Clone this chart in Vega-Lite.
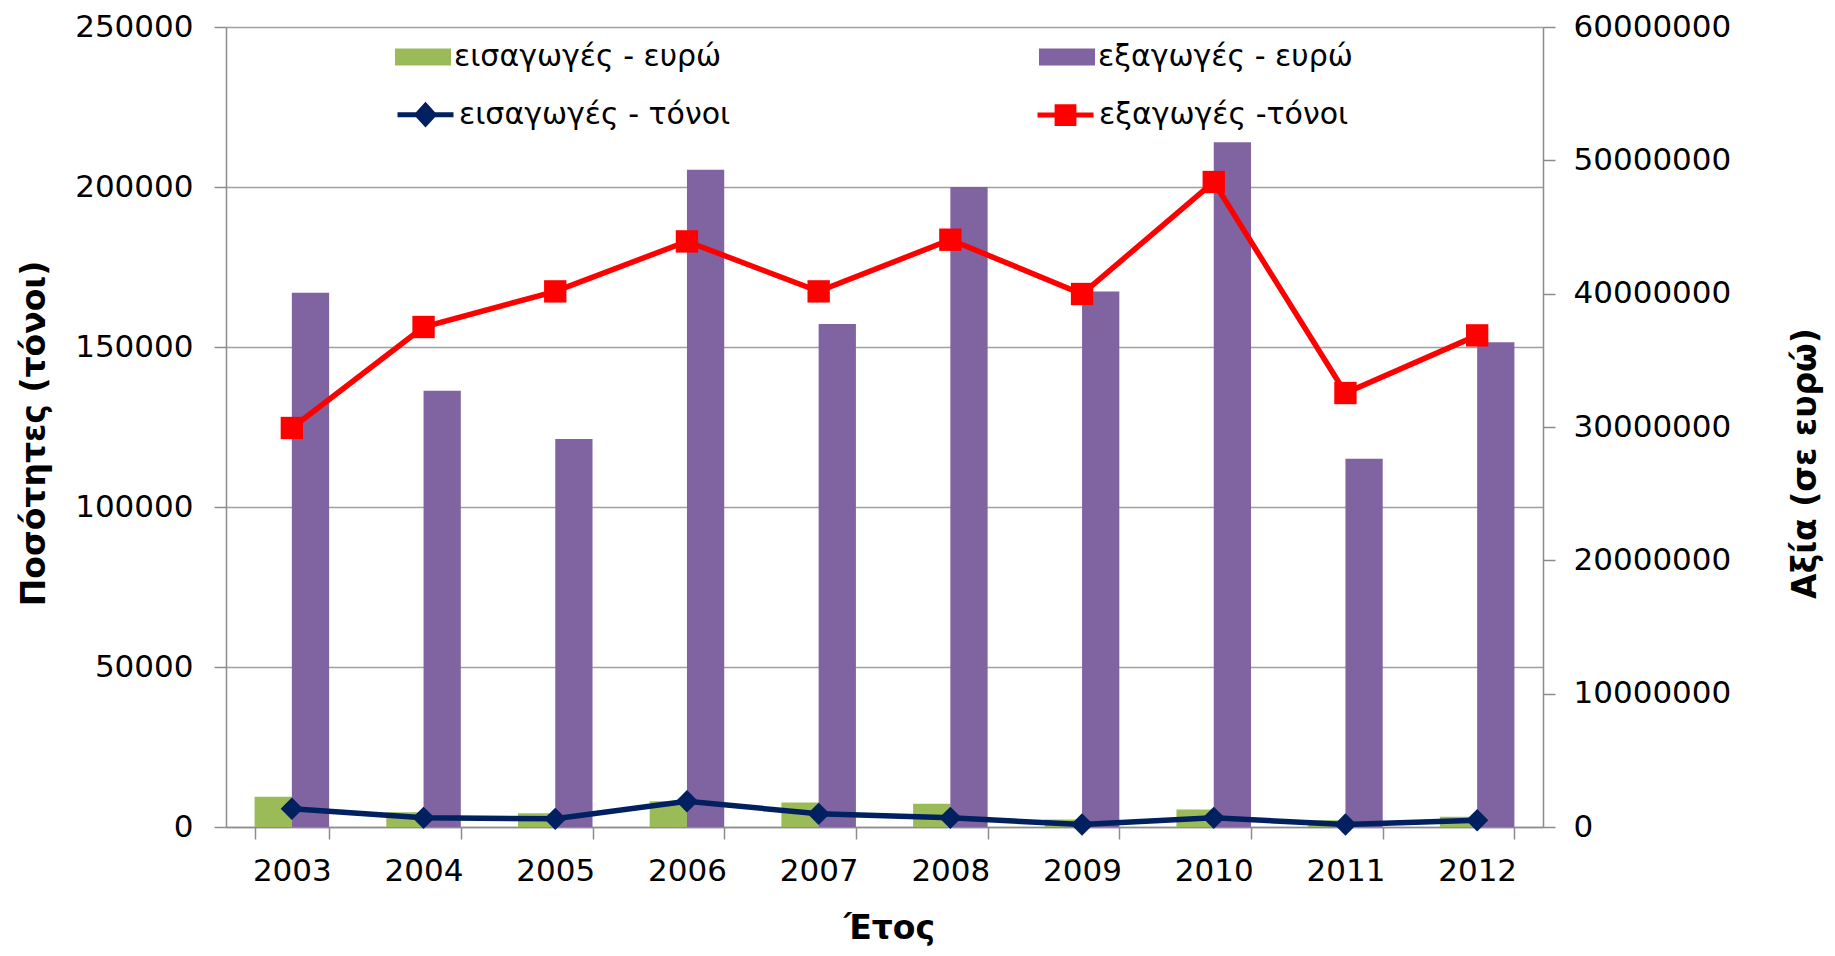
{
  "$schema": "https://vega.github.io/schema/vega-lite/v6.json",
  "width": 1317,
  "height": 800,
  "autosize": {"type": "none"},
  "padding": {"left": 226, "top": 27, "right": 292, "bottom": 129},
  "background": "white",
  "config": {
    "font": "DejaVu Sans",
    "view": {"stroke": null},
    "axis": {
      "domainColor": "#8c8c8c",
      "domainWidth": 1.5,
      "tickColor": "#8c8c8c",
      "tickWidth": 1.5,
      "tickSize": 12,
      "gridColor": "#a0a0a0",
      "gridWidth": 1.5,
      "labelFont": "DejaVu Sans",
      "labelFontSize": 31,
      "labelColor": "#000000",
      "titleFont": "DejaVu Sans",
      "titleFontSize": 33,
      "titleFontWeight": "bold",
      "titleColor": "#000000"
    },
    "legend": {"labelFont": "DejaVu Sans"}
  },
  "datasets": {
    "euro": [
      {"year": "2003", "s": "εισαγωγές - ευρώ", "v": 2270000},
      {"year": "2004", "s": "εισαγωγές - ευρώ", "v": 1110000},
      {"year": "2005", "s": "εισαγωγές - ευρώ", "v": 1040000},
      {"year": "2006", "s": "εισαγωγές - ευρώ", "v": 1940000},
      {"year": "2007", "s": "εισαγωγές - ευρώ", "v": 1840000},
      {"year": "2008", "s": "εισαγωγές - ευρώ", "v": 1740000},
      {"year": "2009", "s": "εισαγωγές - ευρώ", "v": 560000},
      {"year": "2010", "s": "εισαγωγές - ευρώ", "v": 1310000},
      {"year": "2011", "s": "εισαγωγές - ευρώ", "v": 510000},
      {"year": "2012", "s": "εισαγωγές - ευρώ", "v": 760000},
      {"year": "2003", "s": "εξαγωγές - ευρώ", "v": 40070000},
      {"year": "2004", "s": "εξαγωγές - ευρώ", "v": 32720000},
      {"year": "2005", "s": "εξαγωγές - ευρώ", "v": 29100000},
      {"year": "2006", "s": "εξαγωγές - ευρώ", "v": 49300000},
      {"year": "2007", "s": "εξαγωγές - ευρώ", "v": 37730000},
      {"year": "2008", "s": "εξαγωγές - ευρώ", "v": 48000000},
      {"year": "2009", "s": "εξαγωγές - ευρώ", "v": 40170000},
      {"year": "2010", "s": "εξαγωγές - ευρώ", "v": 51350000},
      {"year": "2011", "s": "εξαγωγές - ευρώ", "v": 27620000},
      {"year": "2012", "s": "εξαγωγές - ευρώ", "v": 36350000}
    ],
    "tons": [
      {"year": "2003", "s": "εισαγωγές - τόνοι", "v": 5690},
      {"year": "2004", "s": "εισαγωγές - τόνοι", "v": 2870},
      {"year": "2005", "s": "εισαγωγές - τόνοι", "v": 2560},
      {"year": "2006", "s": "εισαγωγές - τόνοι", "v": 8060},
      {"year": "2007", "s": "εισαγωγές - τόνοι", "v": 4120},
      {"year": "2008", "s": "εισαγωγές - τόνοι", "v": 2870},
      {"year": "2009", "s": "εισαγωγές - τόνοι", "v": 780},
      {"year": "2010", "s": "εισαγωγές - τόνοι", "v": 2870},
      {"year": "2011", "s": "εισαγωγές - τόνοι", "v": 780},
      {"year": "2012", "s": "εισαγωγές - τόνοι", "v": 2125},
      {"year": "2003", "s": "εξαγωγές -τόνοι", "v": 124690},
      {"year": "2004", "s": "εξαγωγές -τόνοι", "v": 156250},
      {"year": "2005", "s": "εξαγωγές -τόνοι", "v": 167380},
      {"year": "2006", "s": "εξαγωγές -τόνοι", "v": 183000},
      {"year": "2007", "s": "εξαγωγές -τόνοι", "v": 167380},
      {"year": "2008", "s": "εξαγωγές -τόνοι", "v": 183530},
      {"year": "2009", "s": "εξαγωγές -τόνοι", "v": 166560},
      {"year": "2010", "s": "εξαγωγές -τόνοι", "v": 201560},
      {"year": "2011", "s": "εξαγωγές -τόνοι", "v": 135620},
      {"year": "2012", "s": "εξαγωγές -τόνοι", "v": 153630}
    ]
  },
  "layer": [
    {
      "data": {"name": "euro"},
      "mark": {"type": "bar"},
      "encoding": {
        "x": {
          "field": "year",
          "type": "ordinal",
          "title": "Έτος",
          "scale": {"paddingInner": 0.434, "paddingOuter": 0.217},
          "axis": {
            "labelAngle": 0,
            "tickBand": "extent",
            "labelPadding": 17,
            "titleX": 663,
            "titleY": 101,
            "titleAlign": "center",
            "titleBaseline": "middle",
            "grid": false
          }
        },
        "xOffset": {
          "field": "s",
          "type": "nominal",
          "scale": {"domain": ["εισαγωγές - ευρώ", "εξαγωγές - ευρώ"]}
        },
        "y": {
          "field": "v",
          "type": "quantitative",
          "title": "Αξία (σε ευρώ)",
          "scale": {"domain": [0, 60000000], "nice": false},
          "axis": {
            "orient": "right",
            "values": [0, 10000000, 20000000, 30000000, 40000000, 50000000, 60000000],
            "format": "d",
            "grid": false,
            "labelPadding": 18,
            "titleAngle": 270,
            "titleX": 262,
            "titleY": 436,
            "titleAlign": "center",
            "titleBaseline": "middle"
          }
        },
        "fill": {
          "field": "s",
          "type": "nominal",
          "scale": {"domain": ["εισαγωγές - ευρώ", "εξαγωγές - ευρώ"], "range": ["#9BBB59", "#8064A2"]},
          "legend": {
            "orient": "none",
            "legendX": 169,
            "legendY": 2,
            "direction": "horizontal",
            "title": null,
            "padding": 0,
            "symbolType": "M-1,-0.3H1V0.3H-1Z",
            "symbolSize": 3136,
            "symbolStrokeWidth": 0,
            "labelFontSize": 30,
            "labelColor": "#000000",
            "labelOffset": 3,
            "labelLimit": 600,
            "columnPadding": 317
          }
        }
      }
    },
    {
      "data": {"name": "tons"},
      "encoding": {
        "x": {"field": "year", "type": "ordinal", "title": "Έτος"},
        "y": {
          "field": "v",
          "type": "quantitative",
          "title": "Ποσότητες (τόνοι)",
          "scale": {"domain": [0, 250000], "nice": false},
          "axis": {
            "orient": "left",
            "values": [0, 50000, 100000, 150000, 200000, 250000],
            "format": "d",
            "grid": true,
            "labelPadding": 21,
            "titleAngle": 270,
            "titleX": -192,
            "titleY": 406,
            "titleAlign": "center",
            "titleBaseline": "middle"
          }
        }
      },
      "layer": [
        {
          "mark": {"type": "line", "strokeWidth": 5.5},
          "encoding": {
            "stroke": {
              "field": "s",
              "type": "nominal",
              "scale": {"domain": ["εισαγωγές - τόνοι", "εξαγωγές -τόνοι"], "range": ["#002060", "#FF0000"]},
              "legend": {
                "orient": "none",
                "legendX": 169,
                "legendY": 57,
                "direction": "horizontal",
                "title": null,
                "padding": 0,
                "symbolType": "M-1,0H1",
                "symbolSize": 3136,
                "symbolStrokeWidth": 5,
                "labelFontSize": 30,
                "labelColor": "#000000",
                "labelOffset": 3,
                "labelLimit": 600,
                "columnPadding": 296,
                "encode": {
                  "symbols": {
                    "update": {
                      "shape": {"signal": "datum.value === 'εισαγωγές - τόνοι' ? 'M-1,0H1M0,-0.33L0.3,0L0,0.33L-0.3,0Z' : 'M-1,0H1M-0.3,-0.3H0.3V0.3H-0.3Z'"},
                      "fill": {"signal": "datum.value === 'εισαγωγές - τόνοι' ? '#002060' : '#FF0000'"}
                    }
                  }
                }
              }
            }
          }
        },
        {
          "transform": [{"filter": "datum.s === 'εισαγωγές - τόνοι'"}],
          "mark": {"type": "point", "filled": true, "opacity": 1, "shape": "diamond", "color": "#002060", "size": 500}
        },
        {
          "transform": [{"filter": "datum.s === 'εξαγωγές -τόνοι'"}],
          "mark": {"type": "point", "filled": true, "opacity": 1, "shape": "square", "color": "#FF0000", "size": 500}
        }
      ]
    }
  ],
  "resolve": {"scale": {"y": "independent"}}
}
